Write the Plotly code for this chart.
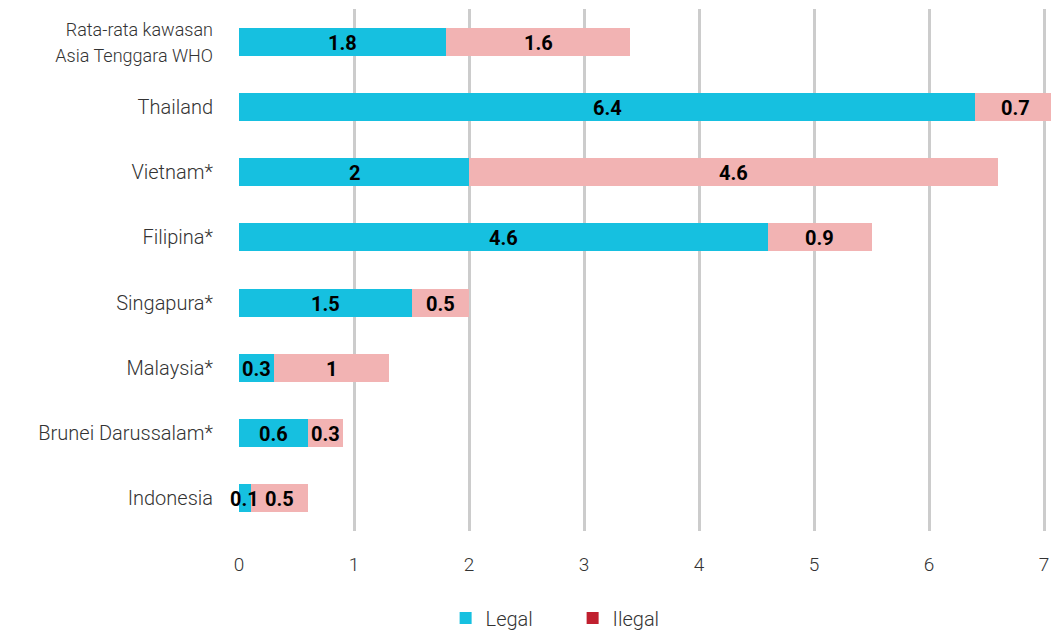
import plotly.graph_objects as go

categories = [
    "<span style='font-size:18px'>Rata-rata kawasan<br>Asia Tenggara WHO</span>",
    "Thailand",
    "Vietnam*",
    "Filipina*",
    "Singapura*",
    "Malaysia*",
    "Brunei Darussalam*",
    "Indonesia",
]
legal = [1.8, 6.4, 2, 4.6, 1.5, 0.3, 0.6, 0.1]
illegal = [1.6, 0.7, 4.6, 0.9, 0.5, 1, 0.3, 0.5]
x_ticks = [0, 1, 2, 3, 4, 5, 6, 7]

CYAN = "#16c0e0"
PINK = "#f2b3b3"
RED = "#c0202f"
FONT = "Roboto"
TXT = "#333333"

fig = go.Figure()
for vals, name, col in [(legal, "Legal", CYAN), (illegal, "Ilegal", PINK)]:
    fig.add_trace(go.Bar(
        y=categories, x=vals, orientation="h", name=name,
        marker=dict(color=col, line=dict(width=0)),
        showlegend=False, width=0.43, hoverinfo="skip",
    ))

# value labels centred in each segment
for cat, lv, iv in zip(categories, legal, illegal):
    for val, center in [(lv, lv / 2), (iv, lv + iv / 2)]:
        fig.add_annotation(
            x=center, y=cat, xref="x", yref="y", text=f"<b>{val:g}</b>",
            showarrow=False, yshift=-1,
            font=dict(family=FONT, size=20, color="#000000"),
        )

# legend-only entries
fig.add_trace(go.Scatter(x=[None], y=[None], mode="markers", name="Legal",
                         marker=dict(symbol="square", size=16, color=CYAN)))
fig.add_trace(go.Scatter(x=[None], y=[None], mode="markers", name="Ilegal",
                         marker=dict(symbol="square", size=16, color=RED)))

fig.update_layout(
    barmode="stack",
    width=1051, height=632,
    margin=dict(l=239, r=0, t=9, b=101, autoexpand=False),
    plot_bgcolor="white", paper_bgcolor="white",
    font=dict(family=FONT, size=20, color=TXT, weight=300),
    xaxis=dict(range=[0, 7.06], tickvals=x_ticks, showgrid=True, gridcolor="#cccccc",
               gridwidth=3, zeroline=False, showline=False, automargin=False,
               ticklabelstandoff=20, tickfont=dict(size=19, color=TXT, weight=300)),
    yaxis=dict(autorange="reversed", showgrid=False, zeroline=False, showline=False,
               automargin=False,
               ticklabelstandoff=25, tickfont=dict(size=20, color=TXT, weight=300)),
    legend=dict(orientation="h", xref="container", yref="container",
                x=0.424, y=0.022, xanchor="left", yanchor="middle",
                traceorder="normal",
                font=dict(size=20, color=TXT, weight=300), entrywidth=82,
                entrywidthmode="pixels", itemsizing="constant"),
    showlegend=True,
)

fig.write_html("out.html", config={"displayModeBar": False},
               post_script="document.body.style.margin='0';")
